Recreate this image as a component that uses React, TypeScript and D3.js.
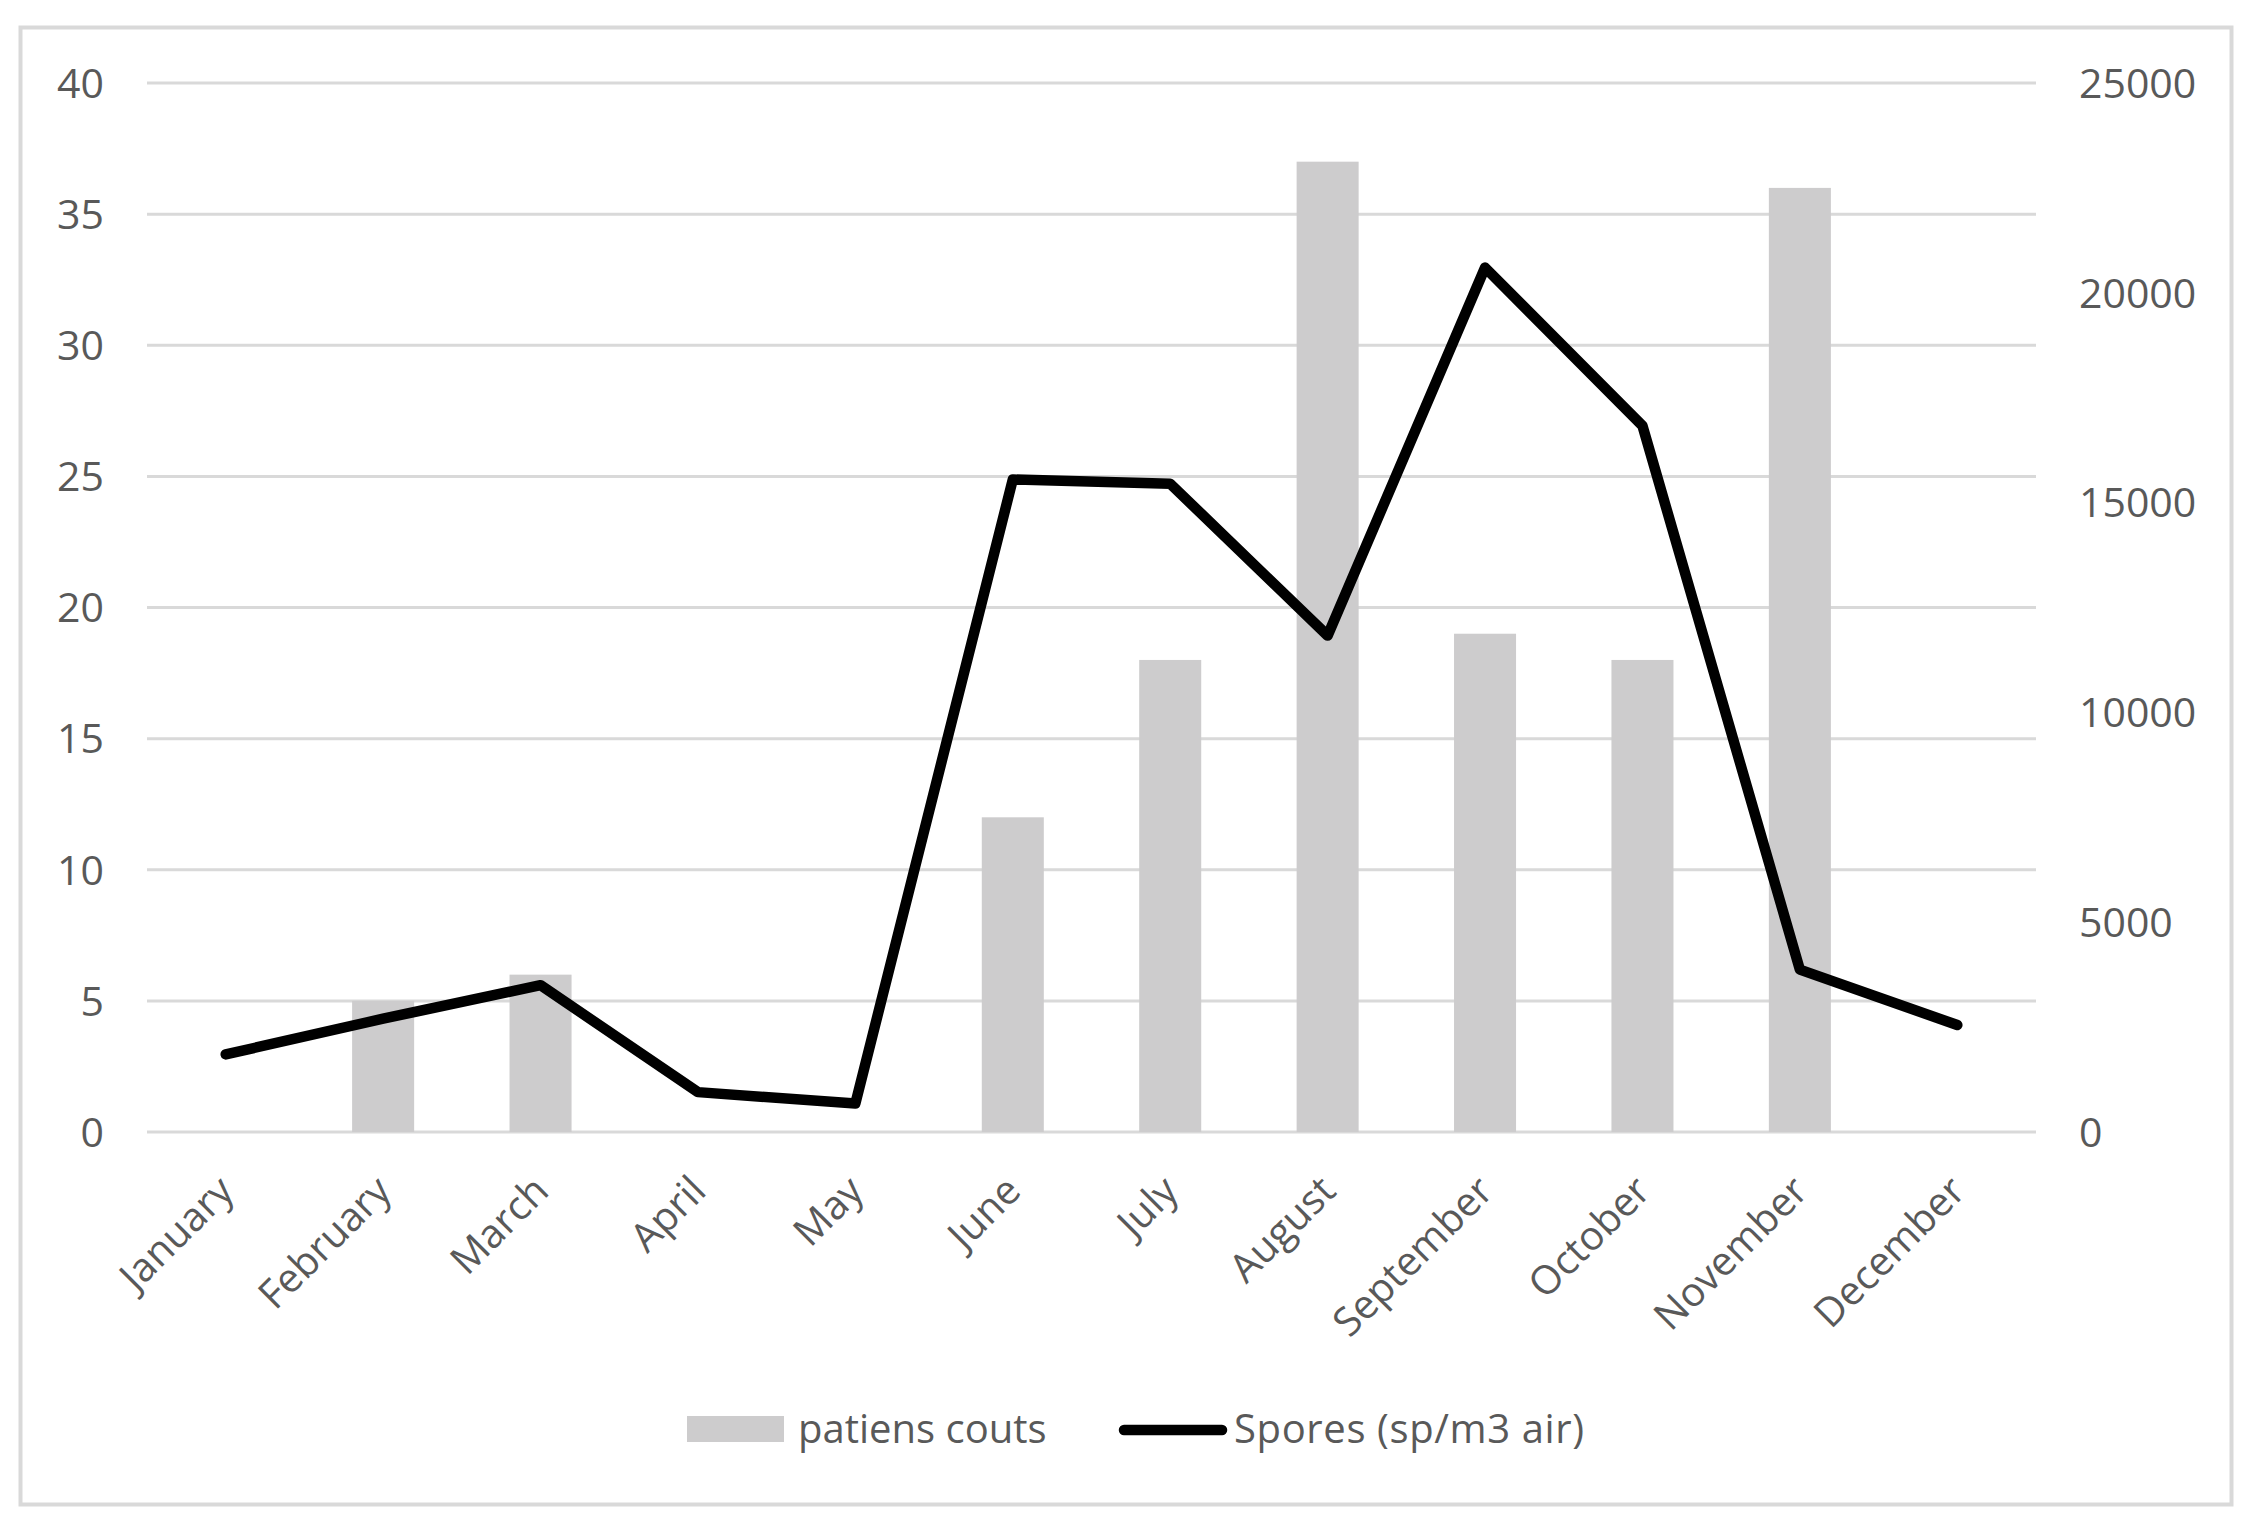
import React from "react";
import * as d3 from "d3";

const months = ["January","February","March","April","May","June","July","August","September","October","November","December"];
const patientCounts = [0, 5, 6, 0, 0, 12, 18, 37, 19, 18, 36, 0];
const spores = [1850, 2700, 3500, 950, 680, 15550, 15450, 11830, 20600, 16830, 3870, 2550];
const leftTicks = [0, 5, 10, 15, 20, 25, 30, 35, 40];
const rightTicks = [0, 5000, 10000, 15000, 20000, 25000];
const legendBar = "patiens couts";
const legendLine = "Spores (sp/m3 air)";

const W = 2255, H = 1531;
const FONT = "'Open Sans', sans-serif";
const TXT = "#595959";
const GRID = "#d9d9d9";
const BAR = "#cdcccd";

export default function App() {
  const band = d3.scaleBand<string>().domain(months).range([147, 2036]);
  const yL = d3.scaleLinear().domain([0, 40]).range([1132, 83]);
  const yR = d3.scaleLinear().domain([0, 25000]).range([1132, 83]);
  const cx = (m: string) => (band(m) as number) + band.bandwidth() / 2;
  const bw = band.bandwidth() * 0.394;
  const line = d3.line<number>().x((_, i) => cx(months[i])).y((d) => yR(d));

  return (
    <div style={{ position: "absolute", left: 0, top: 0 }}>
      <svg width={W} height={H} style={{ display: "block", background: "#fff" }}>
        <rect x={20.5} y={27.5} width={2211} height={1477} fill="#fff" stroke={GRID} strokeWidth={4} />
        {leftTicks.map((t) => (
          <line key={"g" + t} x1={147} x2={2036} y1={yL(t)} y2={yL(t)} stroke={GRID} strokeWidth={3} />
        ))}
        {months.map((m, i) => (
          <rect key={"b" + m} x={cx(m) - bw / 2} y={yL(patientCounts[i])} width={bw} height={yL(0) - yL(patientCounts[i])} fill={BAR} />
        ))}
        <path d={line(spores) || ""} fill="none" stroke="#000" strokeWidth={10.5} strokeLinejoin="round" strokeLinecap="round" />
        {leftTicks.map((t) => (
          <text key={"l" + t} x={104} y={yL(t)} dy="0.36em" textAnchor="end" fontFamily={FONT} fontSize={41} fill={TXT}>{t}</text>
        ))}
        {rightTicks.map((t) => (
          <text key={"r" + t} x={2079} y={yR(t)} dy="0.36em" textAnchor="start" fontFamily={FONT} fontSize={41} fill={TXT}>{t}</text>
        ))}
        {months.map((m) => (
          <text key={"x" + m} transform={`translate(${cx(m) - 11},${1172}) rotate(-45)`} dy="0.75em" textAnchor="end" fontFamily={FONT} fontSize={40} fill={TXT}>{m}</text>
        ))}
        <rect x={687} y={1416} width={97} height={26} fill={BAR} />
        <text x={798} y={1429} dy="0.36em" fontFamily={FONT} fontSize={40} fill={TXT}>{legendBar}</text>
        <line x1={1124} x2={1222} y1={1430} y2={1430} stroke="#000" strokeWidth={10.5} strokeLinecap="round" />
        <text x={1234} y={1429} dy="0.36em" fontFamily={FONT} fontSize={40} fill={TXT} textLength={350} lengthAdjust="spacing">{legendLine}</text>
      </svg>
    </div>
  );
}
